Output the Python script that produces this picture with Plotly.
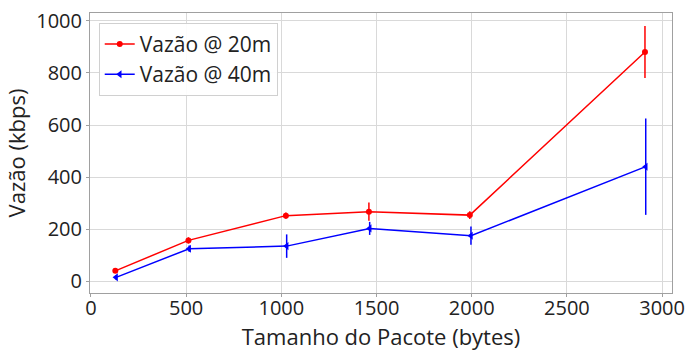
import plotly.graph_objects as go

x_20 = [128, 512, 1024, 1460, 1990, 2910]
y_20 = [40, 157, 252, 267, 254, 880]
e_20 = [8, 12, 12, 35, 15, 100]

x_40 = [132, 516, 1028, 1464, 1996, 2914]
y_40 = [15, 125, 135, 203, 175, 440]
e_40 = [8, 12, 45, 25, 35, 185]

x_ticks = [0, 500, 1000, 1500, 2000, 2500, 3000]
y_ticks = [0, 200, 400, 600, 800, 1000]

font = "Open Sans"
fig = go.Figure()
fig.add_trace(go.Scatter(
    x=x_20, y=y_20, mode="lines+markers", name="Vazão @ 20m",
    line=dict(color="red", width=1.5),
    marker=dict(symbol="circle", size=6, color="red"),
    error_y=dict(type="data", array=e_20, visible=True, color="red", thickness=1.5, width=0),
))
fig.add_trace(go.Scatter(
    x=x_40, y=y_40, mode="lines+markers", name="Vazão @ 40m",
    line=dict(color="blue", width=1.5),
    marker=dict(symbol="triangle-left", size=7, color="blue"),
    error_y=dict(type="data", array=e_40, visible=True, color="blue", thickness=1.5, width=0),
))
axis_common = dict(
    showgrid=True, gridcolor="#d9d9d9", gridwidth=1,
    showline=True, linecolor="#a0a0a0", linewidth=1, mirror=True,
    ticks="outside", ticklen=3, tickcolor="#a0a0a0",
    zeroline=False,
    tickfont=dict(family=font, size=20, color="#222"),
)
fig.update_xaxes(range=[-5, 3052], tickvals=x_ticks, ticklabelstandoff=-6,
                 title=dict(text="Tamanho do Pacote (bytes)", font=dict(family=font, size=22, color="#222"), standoff=0),
                 **axis_common)
fig.update_yaxes(range=[-45, 1030], tickvals=y_ticks,
                 title=dict(text="Vazão (kbps)", font=dict(family=font, size=22, color="#222"), standoff=4),
                 **axis_common)
fig.update_layout(
    width=692, height=358,
    margin=dict(l=90, r=15, t=7, b=65),
    paper_bgcolor="white", plot_bgcolor="white",
    showlegend=True,
    legend=dict(x=0.015, y=0.965, xanchor="left", yanchor="top",
                bgcolor="rgba(255,255,255,0.9)", bordercolor="#d0d0d0", borderwidth=1,
                font=dict(family=font, size=21, color="#222"), tracegroupgap=0),
)
fig.write_html("out.html")
